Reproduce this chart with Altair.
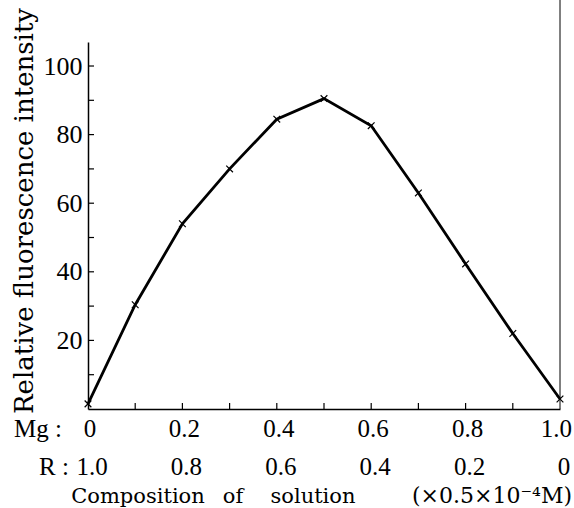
import altair as alt
import pandas as pd

# Data
mg_fraction = [0.0, 0.1, 0.2, 0.3, 0.4, 0.5, 0.6, 0.7, 0.8, 0.9, 1.0]
intensity = [1.5, 30.4, 54.0, 70.0, 84.5, 90.5, 82.6, 63.0, 42.3, 22.0, 2.9]

mg_labels = ["0", "0.2", "0.4", "0.6", "0.8", "1.0"]
mg_label_pos = [0.0, 0.2, 0.4, 0.6, 0.8, 1.0]
r_labels = ["1.0", "0.8", "0.6", "0.4", "0.2", "0"]
y_tick_values = [10, 20, 30, 40, 50, 60, 70, 80, 90, 100]
y_label_values = [20, 40, 60, 80, 100]
x_tick_values = [0.1, 0.2, 0.3, 0.4, 0.5, 0.6, 0.7, 0.8, 0.9]

SERIF = "Liberation Serif, Times New Roman, serif"
TITLE_FONT = "DejaVu Serif, serif"

df = pd.DataFrame({"x": mg_fraction, "y": intensity})
xs = alt.Scale(domain=[0, 1], nice=False, zero=False)
ys = alt.Scale(domain=[0, 107], nice=False, zero=False)

x_enc = alt.X("x:Q", scale=xs, title=None,
              axis=alt.Axis(labels=False, ticks=False, grid=False, domain=True,
                            domainColor="black", domainWidth=1.5, title=None))
y_enc = alt.Y("y:Q", scale=ys, title=None,
              axis=alt.Axis(values=y_label_values, ticks=False, grid=False, domain=True,
                            domainColor="black", domainWidth=1.5,
                            labelFont=SERIF, labelFontSize=26, labelColor="black",
                            labelPadding=6, title=None))

line = alt.Chart(df).mark_line(color="black", strokeWidth=2.8).encode(x=x_enc, y=y_enc)
points = alt.Chart(df).mark_point(
    shape="M-1,-1L1,1M1,-1L-1,1", size=45, filled=False, color="black", strokeWidth=1.2, opacity=1
).encode(x=alt.X("x:Q", title=None), y=alt.Y("y:Q", title=None))

ytick_df = pd.DataFrame({"y": y_tick_values})
yticks = alt.Chart(ytick_df).mark_rule(color="black", strokeWidth=1.2).encode(
    x=alt.value(0), x2=alt.value(6), y=alt.Y("y:Q", title=None))

xtick_df = pd.DataFrame({"x": x_tick_values})
xticks = alt.Chart(xtick_df).mark_rule(color="black", strokeWidth=1.2).encode(
    x=alt.X("x:Q", title=None), y=alt.value(367), y2=alt.value(361))

right_df = pd.DataFrame({"x": [1.0]})
right_line = alt.Chart(right_df).mark_rule(color="black", strokeWidth=1).encode(
    x=alt.X("x:Q", title=None), y=alt.value(-42), y2=alt.value(367))

mg_df = pd.DataFrame({"x": mg_label_pos[:-1], "t": mg_labels[:-1]})
mg_text = alt.Chart(mg_df).mark_text(font=SERIF, fontSize=25, color="black",
                                     baseline="alphabetic", align="center", dx=2).encode(
    x=alt.X("x:Q", title=None), y=alt.value(395), text="t:N")
mg_last_df = pd.DataFrame({"x": mg_label_pos[-1:], "t": mg_labels[-1:]})
mg_last = alt.Chart(mg_last_df).mark_text(font=SERIF, fontSize=25, color="black",
                                          baseline="alphabetic", align="right", dx=12).encode(
    x=alt.X("x:Q", title=None), y=alt.value(395), text="t:N")

r_df = pd.DataFrame({"x": mg_label_pos, "t": r_labels})
r_text = alt.Chart(r_df).mark_text(font=SERIF, fontSize=25, color="black",
                                   baseline="alphabetic", align="center", dx=4).encode(
    x=alt.X("x:Q", title=None), y=alt.value(433), text="t:N")

mg_hdr = alt.Chart(pd.DataFrame({"t": ["Mg :"]})).mark_text(
    font=SERIF, fontSize=25, color="black", baseline="alphabetic", align="left").encode(
    x=alt.value(-74), y=alt.value(395), text="t:N")
r_hdr = alt.Chart(pd.DataFrame({"t": ["R :"]})).mark_text(
    font=SERIF, fontSize=25, color="black", baseline="alphabetic", align="left").encode(
    x=alt.value(-49), y=alt.value(433), text="t:N")

xtitle_words = ["Composition", "of", "solution"]
xtitle_pos = [50, 145, 225]
xt_layers = [
    alt.Chart(pd.DataFrame({"t": [w]})).mark_text(
        font=TITLE_FONT, fontSize=21, color="black", baseline="alphabetic", align="center").encode(
        x=alt.value(p), y=alt.value(461), text="t:N")
    for w, p in zip(xtitle_words, xtitle_pos)
]
unit = alt.Chart(pd.DataFrame({"t": ["(×0.5×10⁻⁴M)"]})).mark_text(
    font=TITLE_FONT, fontSize=22, color="black", baseline="alphabetic", align="right").encode(
    x=alt.value(484), y=alt.value(461), text="t:N")

ytitle = alt.Chart(pd.DataFrame({"t": ["Relative fluorescence intensity"]})).mark_text(
    font=TITLE_FONT, fontSize=26, color="black", baseline="alphabetic", align="center", angle=270).encode(
    x=alt.value(-55), y=alt.value(169), text="t:N")

chart = alt.layer(
    line, points, yticks, xticks, right_line, mg_text, mg_last, r_text, mg_hdr, r_hdr,
    *xt_layers, unit, ytitle
).properties(
    width=472, height=367,
    padding={"left": 88, "top": 42, "right": 14, "bottom": 99},
    autosize=alt.AutoSizeParams(type="none"),
    background="white",
).configure_view(stroke=None)

chart.save("out.html", embed_options={"renderer": "svg", "actions": False})
